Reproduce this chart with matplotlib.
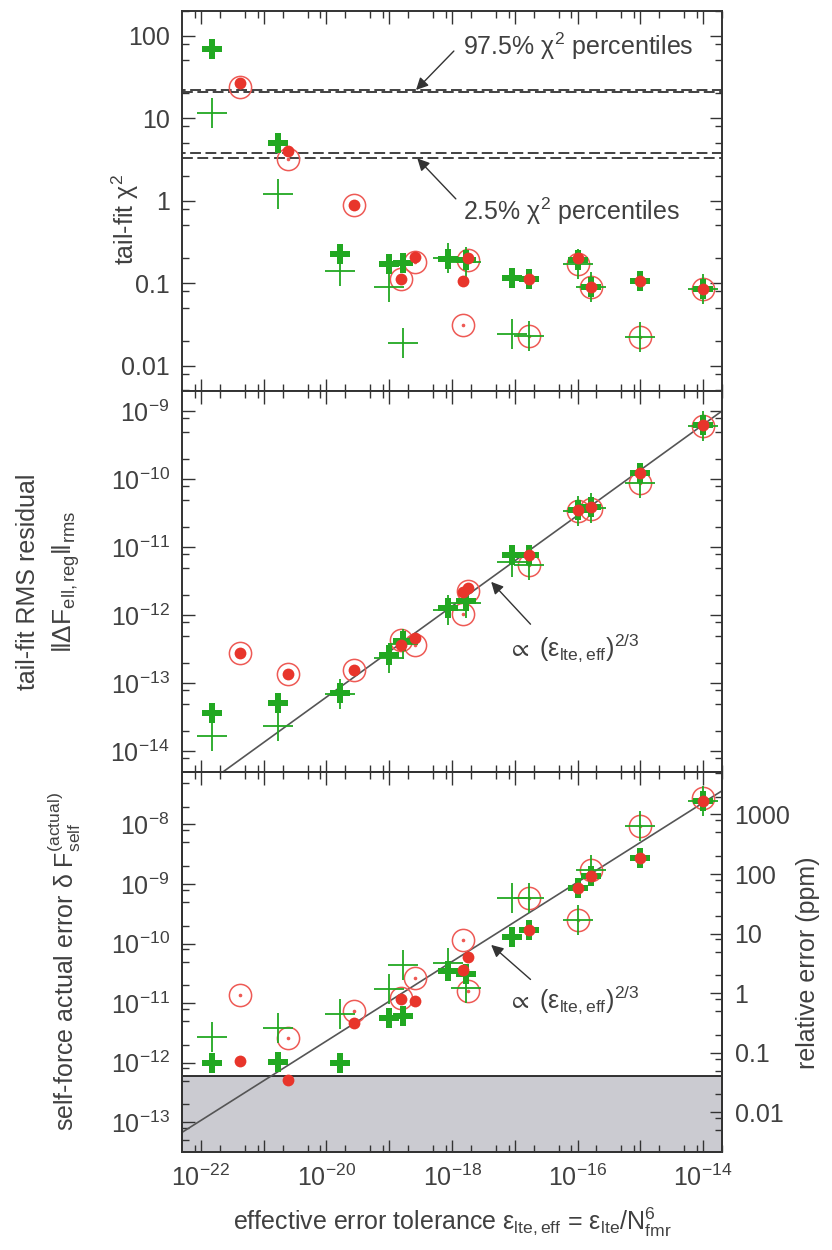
import numpy as np
import matplotlib
matplotlib.use("Agg")
import matplotlib.pyplot as plt
from matplotlib.ticker import FixedLocator, FuncFormatter, NullFormatter

plt.rcParams["font.family"] = ["Liberation Sans", "DejaVu Sans"]
plt.rcParams["mathtext.fontset"] = "custom"
plt.rcParams["mathtext.rm"] = "Liberation Sans"
plt.rcParams["mathtext.it"] = "Liberation Sans:italic"
plt.rcParams["mathtext.bf"] = "Liberation Sans:bold"
plt.rcParams["mathtext.default"] = "regular"

# effective error tolerance of each run
eps_green = [1.48e-22, 1.66e-21, 1.66e-20, 1.0e-19, 1.66e-19, 8.5e-19, 1.66e-18,
             9.1e-18, 1.7e-17, 1.0e-16, 1.62e-16, 1.0e-15, 1.0e-14]
eps_red = [4.2e-22, 2.4e-21, 2.7e-20, 1.55e-19, 2.6e-19, 1.48e-18, 1.78e-18,
           1.7e-17, 1.0e-16, 1.62e-16, 1.0e-15, 1.0e-14]

# top panel: tail-fit chi^2
chi2_green_thick = [68, 5.0, 0.224, 0.17, 0.175, 0.195, 0.19, 0.117, 0.113, 0.19, 0.089, 0.105, 0.085]
chi2_green_thin = [11.6, 1.19, 0.141, 0.089, 0.019, 0.2, 0.18, 0.024, 0.023, 0.17, 0.089, 0.022, 0.085]
chi2_red_dot = [27, 4.0, 0.89, 0.112, 0.21, 0.105, 0.2, 0.113, 0.2, 0.089, 0.105, 0.085]
chi2_red_circle = [23.7, 3.16, 0.89, 0.112, 0.18, 0.031, 0.19, 0.023, 0.17, 0.089, 0.022, 0.085]
chi2_975 = [20.48, 21.92]
chi2_025 = [3.247, 3.816]

# middle panel: tail-fit RMS residual
rms_green_thick = [3.7e-14, 5.1e-14, 7.2e-14, 2.6e-13, 4.2e-13, 1.3e-12, 1.6e-12,
                   7.6e-12, 7.6e-12, 3.5e-11, 3.9e-11, 1.23e-10, 6.3e-10]
rms_green_thin = [1.7e-14, 2.4e-14, 7.0e-14, 2.4e-13, 3.8e-13, 1.2e-12, 1.5e-12,
                  6.0e-12, 5.4e-12, 3.4e-11, 3.8e-11, 8.7e-11, 6.1e-10]
rms_red_dot = [2.8e-13, 1.38e-13, 1.55e-13, 3.7e-13, 4.7e-13, 2.2e-12, 2.5e-12,
               7.6e-12, 3.5e-11, 3.9e-11, 1.23e-10, 6.3e-10]
rms_red_circle = [2.8e-13, 1.38e-13, 1.55e-13, 4.4e-13, 3.7e-13, 1.04e-12, 2.3e-12,
                  5.4e-12, 3.4e-11, 3.7e-11, 8.7e-11, 6.1e-10]

# bottom panel: self-force actual error
err_green_thick = [1.0e-12, 1.04e-12, 9.8e-13, 5.6e-12, 6.0e-12, 3.4e-11, 3.1e-11,
                   1.3e-10, 1.7e-10, 8.6e-10, 1.35e-9, 2.75e-9, 2.5e-8]
err_green_thin = [2.7e-12, 3.9e-12, 6.5e-12, 1.7e-11, 4.4e-11, 4.7e-11, 1.8e-11,
                  5.9e-10, 5.9e-10, 2.5e-10, 1.75e-9, 9.4e-9, 2.5e-8]
err_red_dot = [1.07e-12, 5.1e-13, 4.6e-12, 1.17e-11, 1.1e-11, 3.6e-11, 6.0e-11,
               1.7e-10, 8.6e-10, 1.35e-9, 2.75e-9, 2.5e-8]
err_red_circle = [1.38e-11, 2.6e-12, 7.3e-12, 1.2e-11, 2.6e-11, 1.15e-10, 1.6e-11,
                  5.9e-10, 2.5e-10, 1.75e-9, 9.4e-9, 2.8e-8]

# power law fits  y = C * eps^(2/3)
fit_coef_rms = 10 ** 0.133
fit_coef_err = 10 ** 1.698
fit_power = 2.0 / 3.0
noise_floor = 5.9e-13
F_self = 1.47e-5   # for relative error in ppm

GREEN = "#22a822"
RED = "#e8352b"
INK = "#333333"
TXT = "#404040"
TICK_FS = 18
LAB_FS = 18

fig = plt.figure(figsize=(8.32, 12.5), dpi=100)
ax1 = fig.add_axes([0.2188, 0.6876, 0.649, 0.3038])
ax2 = fig.add_axes([0.2188, 0.3824, 0.649, 0.3052])
ax3 = fig.add_axes([0.2188, 0.0786, 0.649, 0.3038])


def draw_points(ax, gt, gn, rd, rc):
    ax.plot(eps_red, rc, ls="none", marker="o", ms=16, mfc="none", mec="#ee5a55", mew=1.1, zorder=3)
    ax.plot(eps_red, rc, ls="none", marker="o", ms=1.6, color="#ee5a55", zorder=3)
    ax.plot(eps_green, gn, ls="none", marker="+", ms=22, mew=1.3, color=GREEN, zorder=4)
    ax.plot(eps_green, gt, ls="none", marker="P", ms=14, mew=0, color=GREEN, zorder=5)
    ax.plot(eps_red, rd, ls="none", marker="o", ms=8.5, mew=0, color=RED, zorder=6)


def log_ticks(axis, lo, hi):
    # decades and 2,5,8 minor ticks that lie inside [lo, hi]
    exps = range(int(np.floor(np.log10(lo))), int(np.ceil(np.log10(hi))) + 1)
    major = [10.0 ** e for e in exps if lo <= 10.0 ** e <= hi]
    minor = [m * 10.0 ** e for e in exps for m in (2, 5, 8) if lo <= m * 10.0 ** e <= hi]
    axis.set_major_locator(FixedLocator(major))
    axis.set_minor_locator(FixedLocator(minor))
    axis.set_minor_formatter(NullFormatter())


def style_axis(ax, ylim, right=True):
    ax.set_xscale("log")
    ax.set_yscale("log")
    ax.set_xlim(5e-23, 2e-14)
    ax.set_ylim(*ylim)
    log_ticks(ax.xaxis, 5e-23, 2e-14)
    log_ticks(ax.yaxis, *ylim)
    ax.tick_params(which="both", direction="in", top=True, right=right,
                   width=1.0, color=INK, labelsize=TICK_FS, labelcolor=TXT, pad=9)
    ax.tick_params(which="major", length=9)
    ax.tick_params(which="minor", length=5)
    for s in ax.spines.values():
        s.set_linewidth(1.4)
        s.set_color(INK)


def pow10(v, pos):
    return r"$10^{%d}$" % int(round(np.log10(v)))


def plain(v, pos):
    return "%g" % v


def even_pow10(v, pos):
    e = int(round(np.log10(v)))
    return r"$10^{%d}$" % e if e % 2 == 0 else ""


arrow = dict(arrowstyle="-|>", color=INK, lw=1.0, mutation_scale=18, shrinkA=0, shrinkB=0)

# ---- top panel ----
style_axis(ax1, (5e-3, 2e2))
ax1.yaxis.set_major_formatter(FuncFormatter(plain))
ax1.xaxis.set_major_formatter(NullFormatter())
ax1.axhline(chi2_975[0], color=INK, lw=1.3, ls=(0, (6, 2.5)), zorder=2)
ax1.axhline(chi2_975[1], color=INK, lw=1.3, ls=(4, (6, 2.5)), zorder=2)
ax1.axhline(chi2_025[0], color=INK, lw=1.3, ls=(0, (6, 2.5)), zorder=2)
ax1.axhline(chi2_025[1], color=INK, lw=1.3, ls=(4, (6, 2.5)), zorder=2)
draw_points(ax1, chi2_green_thick, chi2_green_thin, chi2_red_dot, chi2_red_circle)
ax1.annotate("", xy=(2.67e-19, chi2_975[1]), xytext=(1.07e-18, 65), arrowprops=arrow)
ax1.text(1.5e-18, 74, r"97.5% $\chi^2$ percentiles", fontsize=LAB_FS, color=TXT, va="center")
ax1.annotate("", xy=(2.8e-19, chi2_025[0]), xytext=(1.15e-18, 1.05), arrowprops=arrow)
ax1.text(1.5e-18, 0.75, r"2.5% $\chi^2$ percentiles", fontsize=LAB_FS, color=TXT, va="center")

# ---- middle panel ----
style_axis(ax2, (5e-15, 2e-9))
ax2.yaxis.set_major_formatter(FuncFormatter(pow10))
ax2.xaxis.set_major_formatter(NullFormatter())
xfit = np.logspace(np.log10(5e-23), np.log10(2e-14), 50)
ax2.plot(xfit, fit_coef_rms * xfit ** fit_power, color="#555555", lw=1.2, zorder=2)
draw_points(ax2, rms_green_thick, rms_green_thin, rms_red_dot, rms_red_circle)
ax2.annotate("", xy=(4.2e-18, 3.1e-12), xytext=(1.78e-17, 7.4e-13), arrowprops=arrow)
ax2.text(7.6e-18, 3.3e-13, r"$\propto\ (\varepsilon_{\mathrm{lte,eff}})^{2/3}$",
         fontsize=LAB_FS, color=TXT, va="center")

# ---- bottom panel ----
ylo, yhi = 3.2e-14, 7.6e-8
style_axis(ax3, (ylo, yhi), right=False)
ax3.yaxis.set_major_formatter(FuncFormatter(pow10))
ax3.xaxis.set_major_formatter(FuncFormatter(even_pow10))
ax3.axhspan(ylo, noise_floor, color="#cbcbd1", zorder=0)
ax3.axhline(noise_floor, color="#222222", lw=1.3, zorder=1)
ax3.plot(xfit, fit_coef_err * xfit ** fit_power, color="#555555", lw=1.2, zorder=2)
draw_points(ax3, err_green_thick, err_green_thin, err_red_dot, err_red_circle)
ax3.annotate("", xy=(4.2e-18, 9.5e-11), xytext=(1.78e-17, 2.5e-11), arrowprops=arrow)
ax3.text(7.6e-18, 1.12e-11, r"$\propto\ (\varepsilon_{\mathrm{lte,eff}})^{2/3}$",
         fontsize=LAB_FS, color=TXT, va="center")

ax3r = ax3.twinx()
ax3r.set_yscale("log")
plo, phi = ylo / F_self * 1e6, yhi / F_self * 1e6
ax3r.set_ylim(plo, phi)
log_ticks(ax3r.yaxis, plo, phi)
ax3r.yaxis.set_major_formatter(FuncFormatter(plain))
ax3r.tick_params(which="both", direction="in", width=1.0, color=INK,
                 labelsize=TICK_FS, labelcolor=TXT, pad=9)
ax3r.tick_params(which="major", length=9)
ax3r.tick_params(which="minor", length=5)
for s in ax3r.spines.values():
    s.set_linewidth(1.4)
    s.set_color(INK)

# axis labels
fig.text(125 / 832, 1 - 220 / 1250, r"tail-fit $\chi^2$", rotation=90,
         fontsize=LAB_FS, color=TXT, ha="center", va="center")
fig.text(28 / 832, 1 - 582 / 1250, "tail-fit RMS residual", rotation=90,
         fontsize=LAB_FS, color=TXT, ha="center", va="center")
fig.text(66 / 832, 1 - 582 / 1250,
         r"$\Vert\Delta\mathrm{F}_{\mathrm{ell,reg}}\Vert_{\mathrm{rms}}$", rotation=90,
         fontsize=LAB_FS + 1, color=TXT, ha="center", va="center")
fig.text(64 / 832, 1 - 962 / 1250,
         r"self-force actual error $\delta\ \mathrm{F}_{\mathrm{self}}^{(\mathrm{actual})}$",
         rotation=90, fontsize=LAB_FS, color=TXT, ha="center", va="center")
fig.text(808 / 832, 1 - 963 / 1250, "relative error (ppm)", rotation=90,
         fontsize=LAB_FS, color=TXT, ha="center", va="center")
fig.text(452 / 832, 1 - 1222 / 1250,
         r"effective error tolerance $\varepsilon_{\mathrm{lte,eff}}$ = "
         r"$\varepsilon_{\mathrm{lte}}/\mathrm{N}_{\mathrm{fmr}}^{6}$",
         fontsize=LAB_FS, color=TXT, ha="center", va="center")

fig.savefig("out.png", dpi=100)
